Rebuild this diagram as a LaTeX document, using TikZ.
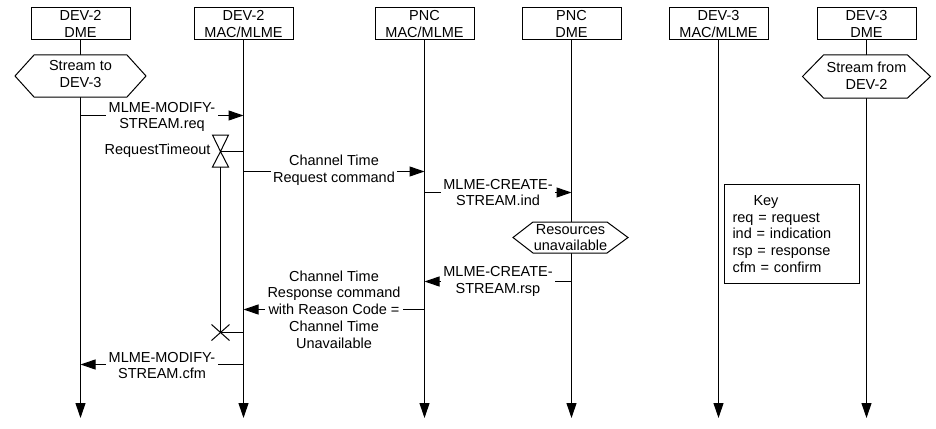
\documentclass[tikz,border=0pt]{standalone}
\usepackage{fontspec}
\setmainfont{Liberation Sans}
\usetikzlibrary{arrows.meta,calc}
\begin{document}
\begin{tikzpicture}[x=1pt,y=-1pt,
  font=\fontsize{14.5}{16.8}\selectfont, line width=1pt,
  hdr/.style={draw, minimum width=99pt, minimum height=32pt, inner sep=0pt, align=center},
  life/.style={-{Triangle[length=15pt,width=10pt]}},
  msg/.style={-{Triangle[length=15pt,width=10pt]}},
  lbl/.style={fill=white, align=center, inner sep=2.5pt},
  hexa/.style={draw, fill=white},
  txt/.style={align=center, inner sep=0pt}]
\useasboundingbox (0,0) rectangle (936,428);

% header boxes
\node[hdr] (d2dme) at (80.5,24) {DEV-2\\DME};
\node[hdr] (d2mac) at (243.5,24) {DEV-2\\MAC/MLME};
\node[hdr] (pmac) at (424.5,24) {PNC\\MAC/MLME};
\node[hdr] (pdme) at (571.5,24) {PNC\\DME};
\node[hdr] (d3mac) at (718.5,24) {DEV-3\\MAC/MLME};
\node[hdr] (d3dme) at (866.5,24) {DEV-3\\DME};

% lifeline ends
\coordinate (e1) at (80.5,418);
\coordinate (e2) at (243.5,418);
\coordinate (e3) at (424.5,418);
\coordinate (e4) at (571.5,418);
\coordinate (e5) at (718.5,418);
\coordinate (e6) at (866.5,418);

\draw[life] (d2dme) -- (e1);
\draw[life] (d2mac) -- (e2);
\draw[life] (pmac) -- (e3);
\draw[life] (pdme) -- (e4);
\draw[life] (d3mac) -- (e5);
\draw[life] (d3dme) -- (e6);

% hexagons
\coordinate (h1) at (80.5,76);
\draw[hexa] ($(h1)+(-65.5,0)$) -- ($(h1)+(-46.5,-21)$) -- ($(h1)+(46.5,-21)$) -- ($(h1)+(65.5,0)$) -- ($(h1)+(46.5,21)$) -- ($(h1)+(-46.5,21)$) -- cycle;
\node[txt] (h1t) at ($(h1)+(0,-2)$) {Stream to\\DEV-3};

\coordinate (h2) at (866.5,76.5);
\draw[hexa] ($(h2)+(-64,0)$) -- ($(h2)+(-43,-21.5)$) -- ($(h2)+(41,-21.5)$) -- ($(h2)+(64,0)$) -- ($(h2)+(41,21.5)$) -- ($(h2)+(-43,21.5)$) -- cycle;
\node[txt] (h2t) at ($(h2)+(0,-1)$) {Stream from\\DEV-2};

\coordinate (h3) at (570.5,237.5);
\draw[hexa] ($(h3)+(-57.5,0)$) -- ($(h3)+(-37.5,-15.5)$) -- ($(h3)+(36.5,-15.5)$) -- ($(h3)+(57.5,0)$) -- ($(h3)+(36.5,15.5)$) -- ($(h3)+(-37.5,15.5)$) -- cycle;
\node[txt] (h3t) at (h3) {Resources\\unavailable};

% message end points
\coordinate (m1a) at (80.5,115.5);   \coordinate (m1b) at (243.5,115.5);
\coordinate (m2a) at (243.5,171.5);  \coordinate (m2b) at (424.5,171.5);
\coordinate (m3a) at (424.5,192.5);  \coordinate (m3b) at (571.5,192.5);
\coordinate (m4a) at (571.5,281.5);  \coordinate (m4b) at (424.5,281.5);
\coordinate (m5a) at (424.5,309.5);  \coordinate (m5b) at (243.5,309.5);
\coordinate (m6a) at (243.5,364.5);  \coordinate (m6b) at (80.5,364.5);

\draw[msg] (m1a) -- node[lbl, yshift=-1.5pt] (l1) {MLME-MODIFY-\\STREAM.req} (m1b);
\draw[msg] (m2a) -- node[lbl, yshift=1pt] (l2) {Channel Time\\Request command} (m2b);
\draw[msg] (m3a) -- node[lbl] (l3) {MLME-CREATE-\\STREAM.ind} (m3b);
\draw[msg] (m4a) -- node[lbl] (l4) {MLME-CREATE-\\STREAM.rsp} (m4b);
\draw[msg] (m5a) -- node[lbl] (l5) {Channel Time\\Response command\\with Reason Code =\\Channel Time\\Unavailable} (m5b);
\draw[msg] (m6a) -- node[lbl, yshift=-1pt] (l6) {MLME-MODIFY-\\STREAM.cfm} (m6b);

% request timeout timer
\coordinate (tm) at (220.5,151.5);
\coordinate (tmb) at (220.5,167);
\coordinate (tx) at (220.5,332.5);
\coordinate (tmL) at (243.5,151.5);
\coordinate (txL) at (243.5,332.5);
\draw (212.5,135) -- (228.5,135) -- (tm) -- cycle;
\draw (tm) -- (212.5,167) -- (228.5,167) -- cycle;
\draw (tm) -- (tmL);
\draw (tmb) -- (tx);
\draw (tx) -- (txL);
\draw (211.5,324.5) -- (229.5,340.5);
\draw (211.5,340.5) -- (229.5,324.5);
\node[anchor=east, inner sep=0pt] (rt) at (211,151) {RequestTimeout};

% key
\node[draw, anchor=north west, text width=119pt, inner xsep=8pt, inner ysep=0pt,
      minimum height=99pt, align=left] (key) at (724,184)
  {\hspace*{21pt}Key\\req = request\\ind = indication\\rsp = response\\cfm = confirm};
\end{tikzpicture}
\end{document}
